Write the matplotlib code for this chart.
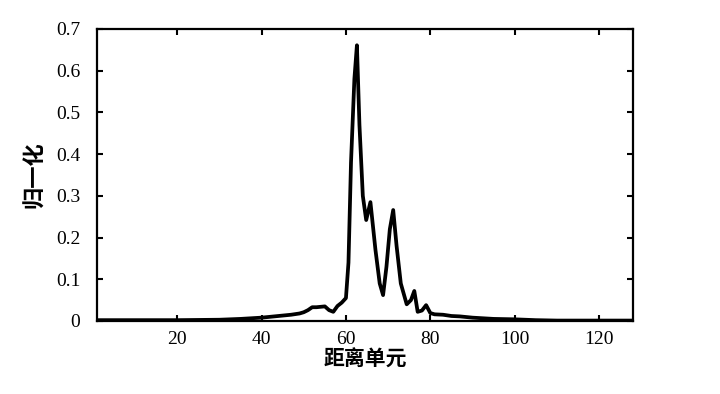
import matplotlib
matplotlib.use('Agg')
import matplotlib.pyplot as plt

# range cell index and normalised amplitude
cells = [1, 10, 20, 30, 35, 40, 44, 47, 49, 50, 51, 52, 53, 54, 55, 56, 57, 58, 59, 60,
         60.6, 61.2, 62, 62.6, 63.2, 64, 64.8, 65.8, 67, 68, 68.8, 69.6, 70.4, 71.2,
         72, 73, 74.4, 75.4, 76.2, 77, 78, 79, 80, 81, 83, 85, 87, 90, 95, 100, 105,
         110, 115, 120, 128]
amplitude = [0.002, 0.002, 0.002, 0.003, 0.005, 0.008, 0.012, 0.015, 0.018, 0.021,
             0.026, 0.033, 0.033, 0.034, 0.035, 0.026, 0.022, 0.036, 0.044, 0.055,
             0.14, 0.38, 0.58, 0.661, 0.47, 0.30, 0.242, 0.285, 0.17, 0.09, 0.062,
             0.13, 0.22, 0.266, 0.18, 0.09, 0.04, 0.05, 0.072, 0.022, 0.025, 0.038,
             0.019, 0.016, 0.015, 0.012, 0.011, 0.008, 0.005, 0.004, 0.002, 0.001,
             0.001, 0.001, 0.001]

x_ticks = [20, 40, 60, 80, 100, 120]
y_ticks = [0, 0.1, 0.2, 0.3, 0.4, 0.5, 0.6, 0.7]
y_tick_labels = ['0', '0.1', '0.2', '0.3', '0.4', '0.5', '0.6', '0.7']

fig = plt.figure(figsize=(7.2, 3.94), dpi=100)
ax = fig.add_axes([0.1347, 0.1853, 0.7443, 0.7411])

ax.plot(cells, amplitude, color='black', linewidth=2.7, solid_joinstyle='round')

ax.set_xlim(1, 128)
ax.set_ylim(0, 0.7)
ax.set_xticks(x_ticks)
ax.set_yticks(y_ticks)
ax.set_yticklabels(y_tick_labels)

for lbl in ax.get_xticklabels() + ax.get_yticklabels():
    lbl.set_fontfamily('Liberation Serif')
    lbl.set_fontsize(14)

ax.tick_params(direction='in', top=True, right=True, length=4, width=1.5)
ax.tick_params(axis='x', pad=7)
ax.tick_params(axis='y', pad=12)
for s in ax.spines.values():
    s.set_linewidth(1.6)

ax.set_xlabel('距离单元', family=['Noto Sans CJK SC', 'DejaVu Sans'],
              fontsize=15, fontweight='bold', labelpad=1)
ax.set_ylabel('归一化', family=['Noto Sans CJK SC', 'DejaVu Sans'],
              fontsize=16, fontweight='bold', labelpad=7)

plt.savefig('out.png', dpi=100)
